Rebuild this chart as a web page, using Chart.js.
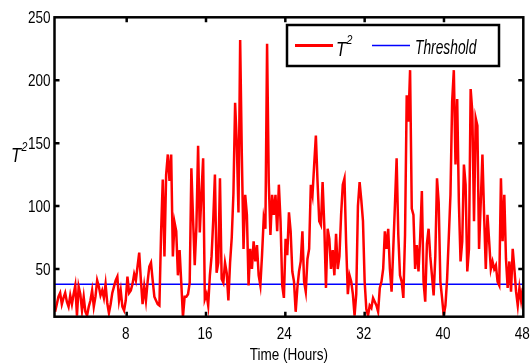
<!DOCTYPE html>
<html>
<head>
<meta charset="utf-8">
<script src="https://cdn.jsdelivr.net/npm/chart.js@4.4.1/dist/chart.umd.min.js"></script>
<style>
  html, body { margin: 0; padding: 0; background: #fff; }
  #wrap { width: 531px; height: 363px; }
</style>
</head>
<body>
<div id="wrap"><canvas id="t2Chart" width="531" height="363"></canvas></div>
<script>
// samples are evenly spaced between these hours
const startHour = 0.78;
const endHour = 47.95;

// T^2 statistic
const t2Values = [
  16, 22, 28, 31, 22, 27, 31, 24, 20, 29,
  22, 30, 37, 13, 36, 30, 17, 28, 16, 13,
  20, 25, 33, 20, 28, 41, 36, 29, 33, 27,
  38, 23, 15, 22, 31, 36, 41, 44, 25, 33,
  20, 17, 25, 44, 31, 33, 38, 46, 41, 52,
  63, 41, 22, 36, 25, 40, 52, 55, 41, 28,
  25, 22, 21,
  79, 121, 60, 125, 141, 120, 141, 60, 87, 80,
  45, 65, 39, 12, 28, 28, 30, 39, 130, 90,
  53, 84, 148, 79, 110, 138, 26, 30, 21, 45,
  60, 89, 125, 47, 55, 122, 42, 39, 55, 47,
  25, 55, 75, 110, 182, 150, 95, 232, 140, 66,
  109, 93, 37, 66, 50, 72, 56, 69, 45, 37,
  61, 90, 82, 229, 119, 77, 109, 93, 109, 80,
  117, 88, 37, 27, 74, 61, 95, 80, 48, 40,
  16, 35, 48, 56, 80, 40, 32, 58, 66, 117,
  109, 133, 156, 119, 88, 85, 119, 85, 35, 82,
  74, 50, 65, 45, 78, 50, 60, 93, 117, 122,
  70, 30, 45, 40, 30, 13, 30, 100, 119, 105,
  88, 40, 18, 13, 21, 19, 27, 24, 21, 16,
  35, 40, 50, 80, 66, 82, 50, 32, 66, 101,
  138, 77, 45, 40, 27, 77, 188, 167, 208, 98,
  93, 50, 69, 48, 75, 112, 40, 24, 70, 82,
  60, 45, 29, 60, 122, 103, 40, 27, 13, 21,
  42, 75, 109, 183, 208, 133, 185, 103, 56, 72,
  133, 117, 48, 66, 193, 175, 88, 170, 164, 66,
  103, 141, 93, 50, 93, 72, 50, 56, 50, 53,
  40, 37, 122, 72, 109, 58, 35, 56, 32, 66,
  50, 32, 21, 35, 25, 35
];

const threshold = 37.8;

const xTicks = [8, 16, 24, 32, 40, 48];
const yTicks = [50, 100, 150, 200, 250];
const xRange = [0.72, 48];
const yRange = [12.1, 250];

const FONT = "'Liberation Sans', Arial, sans-serif";

const stepHour = (endHour - startHour) / (t2Values.length - 1);
const t2Points = t2Values.map((v, i) => ({ x: startHour + i * stepHour, y: v }));
const thresholdPoints = [{ x: xRange[0], y: threshold }, { x: xRange[1], y: threshold }];

// the original figure is squeezed sideways, so text is drawn narrowed
function narrowText(ctx, text, x, y, font, sx, align) {
  ctx.save();
  ctx.font = font;
  ctx.translate(x, y);
  ctx.scale(sx, 1);
  ctx.textAlign = align || "left";
  ctx.fillText(text, 0, 0);
  const w = ctx.measureText(text).width * sx;
  ctx.restore();
  return w;
}

// box, inward ticks, tick labels, legend and axis labels
const framePlugin = {
  id: "frame",
  afterDraw(chart) {
    const { ctx, chartArea: a, scales } = chart;
    const xs = scales.x, ys = scales.y;
    const tick = 5;
    const sx = 0.82;

    ctx.save();
    ctx.strokeStyle = "#000";
    ctx.lineWidth = 2.5;
    ctx.beginPath();
    xTicks.forEach(t => {
      if (t >= xRange[1]) return;
      const px = xs.getPixelForValue(t);
      ctx.moveTo(px, a.bottom); ctx.lineTo(px, a.bottom - tick);
      ctx.moveTo(px, a.top); ctx.lineTo(px, a.top + tick);
    });
    yTicks.forEach(t => {
      if (t >= yRange[1]) return;
      const py = ys.getPixelForValue(t);
      ctx.moveTo(a.left, py); ctx.lineTo(a.left + tick, py);
      ctx.moveTo(a.right, py); ctx.lineTo(a.right - tick, py);
    });
    ctx.stroke();
    ctx.strokeRect(a.left, a.top, a.right - a.left, a.bottom - a.top);

    ctx.fillStyle = "#000";
    ctx.textBaseline = "middle";
    yTicks.forEach(t => {
      narrowText(ctx, String(t), a.left - 4, ys.getPixelForValue(t) + 1, "16.5px " + FONT, sx, "right");
    });
    xTicks.forEach(t => {
      narrowText(ctx, String(t), xs.getPixelForValue(t) - 1, 334, "16.5px " + FONT, sx, "center");
    });
    narrowText(ctx, "Time (Hours)", (a.left + a.right) / 2, 355, "16.5px " + FONT, sx, "center");

    // legend
    const lx = 287, ly = 25, lw = 212, lh = 41;
    ctx.fillStyle = "#fff";
    ctx.fillRect(lx, ly, lw, lh);
    ctx.strokeRect(lx, ly, lw, lh);

    ctx.lineWidth = 2.8;
    ctx.strokeStyle = "#ff0000";
    ctx.beginPath(); ctx.moveTo(295, 45.5); ctx.lineTo(333, 45.5); ctx.stroke();
    ctx.lineWidth = 1.5;
    ctx.strokeStyle = "#0000ff";
    ctx.beginPath(); ctx.moveTo(372, 45.5); ctx.lineTo(410, 45.5); ctx.stroke();

    ctx.fillStyle = "#000";
    ctx.textBaseline = "alphabetic";
    let w = narrowText(ctx, "T", 336, 56, "italic 20px " + FONT, sx);
    narrowText(ctx, "2", 336 + w + 0.5, 44, "italic 13px " + FONT, sx);
    narrowText(ctx, "Threshold", 415, 54, "italic 20px " + FONT, 0.69);

    // y label
    w = narrowText(ctx, "T", 11, 162, "italic 20px " + FONT, sx);
    narrowText(ctx, "2", 11 + w + 0.5, 151, "italic 13px " + FONT, sx);
    ctx.restore();
  }
};

const t2Chart = new Chart(document.getElementById("t2Chart"), {
  type: "line",
  data: {
    datasets: [
      { label: "T2", data: t2Points, borderColor: "#ff0000", borderWidth: 2.5, pointRadius: 0, tension: 0 },
      { label: "Threshold", data: thresholdPoints, borderColor: "#0000ff", borderWidth: 1.5, pointRadius: 0 }
    ]
  },
  options: {
    responsive: false,
    animation: false,
    events: [],
    layout: { padding: { left: 0, right: 7.7, top: 17.3, bottom: 0 } },
    plugins: { legend: { display: false }, tooltip: { enabled: false } },
    scales: {
      x: {
        type: "linear",
        min: xRange[0],
        max: xRange[1],
        grid: { display: false, drawTicks: false },
        border: { display: false },
        afterBuildTicks: s => { s.ticks = xTicks.map(v => ({ value: v })); },
        afterFit: s => { s.height = 46.3; },
        ticks: { display: false }
      },
      y: {
        min: yRange[0],
        max: yRange[1],
        grid: { display: false, drawTicks: false },
        border: { display: false },
        afterBuildTicks: s => { s.ticks = yTicks.map(v => ({ value: v })); },
        afterFit: s => { s.width = 54.5; },
        ticks: { display: false }
      }
    }
  },
  plugins: [framePlugin]
});
</script>
</body>
</html>
